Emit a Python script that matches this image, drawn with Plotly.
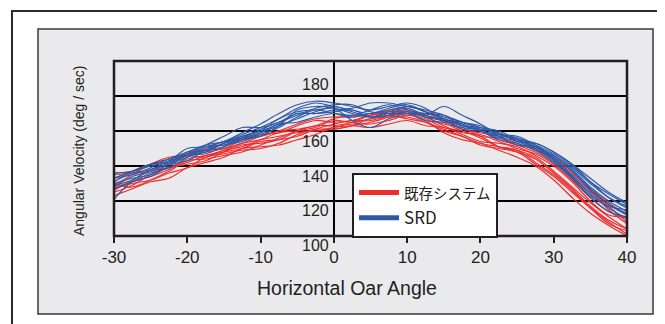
import plotly.graph_objects as go

# Horizontal oar angle (deg) sample positions
angles = [-30, -27.5, -25, -22.5, -20, -17.5, -15, -12.5, -10, -7.5, -5, -2.5, 0, 2.5, 5,
          7.5, 10, 12.5, 15, 17.5, 20, 22.5, 25, 27.5, 30, 32.5, 35, 37.5, 40]

# Existing system (red) curves, angular velocity deg/sec
red_1 = [125, 129, 135, 139, 141, 143, 148, 152, 153, 155, 160, 163, 163, 165, 169, 171, 170, 167, 162, 160, 156, 151, 149, 145, 137, 128, 119, 111, 104]
red_2 = [131, 137, 141, 142, 148, 149, 150, 153, 157, 160, 161, 163, 167, 169, 169, 172, 173, 168, 164, 162, 157, 156, 152, 148, 142, 134, 125, 117, 108]
red_3 = [127, 130, 132, 136, 139, 145, 147, 149, 150, 153, 158, 161, 161, 163, 167, 168, 168, 165, 160, 157, 152, 150, 148, 141, 134, 125, 116, 108, 101]
red_4 = [133, 137, 141, 144, 147, 150, 154, 156, 157, 160, 164, 167, 168, 168, 170, 171, 171, 168, 163, 159, 158, 154, 150, 147, 141, 132, 122, 114, 110]
red_5 = [123, 127, 131, 133, 139, 142, 145, 150, 151, 152, 155, 158, 162, 164, 164, 166, 169, 166, 159, 155, 153, 149, 145, 140, 132, 122, 113, 106, 100]
red_6 = [129, 135, 141, 145, 146, 145, 149, 151, 155, 159, 160, 160, 162, 163, 162, 164, 166, 163, 162, 158, 154, 153, 151, 146, 140, 131, 120, 112, 111]
red_7 = [135, 136, 137, 141, 146, 148, 150, 155, 158, 159, 163, 166, 165, 166, 169, 170, 169, 170, 167, 161, 159, 157, 153, 149, 144, 136, 127, 119, 112]
red_8 = [126, 132, 137, 139, 142, 146, 148, 150, 154, 155, 157, 161, 164, 166, 166, 169, 174, 171, 165, 160, 157, 151, 148, 144, 136, 127, 117, 109, 104]
red_9 = [128, 131, 134, 138, 144, 146, 149, 153, 155, 157, 159, 160, 161, 163, 165, 168, 171, 169, 166, 163, 160, 155, 152, 150, 145, 137, 126, 115, 107]
red_10 = [130, 128, 132, 137, 143, 144, 146, 148, 152, 156, 160, 162, 166, 165, 167, 169, 167, 165, 161, 157, 153, 151, 149, 142, 135, 126, 116, 107, 103]

# SRD (blue) curves
blue_1 = [128, 134, 137, 142, 147, 149, 153, 158, 162, 167, 173, 176, 174, 172, 170, 173, 175, 171, 167, 164, 160, 158, 156, 151, 146, 138, 128, 120, 114]
blue_2 = [133, 137, 141, 144, 148, 152, 154, 159, 164, 170, 175, 177, 176, 174, 172, 174, 176, 173, 166, 162, 161, 159, 154, 153, 148, 141, 131, 122, 116]
blue_3 = [130, 133, 135, 141, 145, 149, 153, 155, 159, 164, 165, 168, 170, 169, 172, 175, 172, 170, 169, 165, 163, 158, 157, 152, 145, 137, 127, 118, 112]
blue_4 = [136, 137, 141, 142, 147, 152, 157, 162, 162, 165, 170, 170, 171, 172, 168, 170, 172, 168, 166, 165, 162, 160, 155, 151, 144, 134, 124, 116, 110]
blue_5 = [121, 131, 134, 140, 146, 147, 151, 155, 157, 163, 172, 174, 173, 166, 162, 167, 170, 169, 174, 169, 164, 158, 155, 150, 143, 133, 122, 114, 111]
blue_6 = [131, 136, 138, 143, 146, 151, 152, 156, 161, 165, 169, 173, 175, 175, 171, 170, 170, 166, 165, 164, 160, 157, 156, 152, 147, 140, 131, 124, 118]
blue_7 = [136, 137, 140, 143, 150, 151, 154, 157, 160, 167, 171, 172, 173, 170, 168, 171, 173, 169, 166, 161, 160, 155, 153, 149, 142, 133, 123, 117, 115]
blue_8 = [129, 132, 138, 141, 143, 149, 151, 157, 160, 164, 170, 170, 172, 173, 176, 176, 174, 172, 169, 163, 162, 157, 152, 151, 146, 139, 130, 122, 117]
blue_9 = [133, 135, 139, 144, 146, 148, 153, 156, 159, 163, 167, 171, 174, 171, 168, 169, 171, 168, 167, 163, 161, 159, 154, 150, 144, 135, 126, 118, 113]
blue_10 = [127, 131, 136, 139, 145, 150, 152, 154, 158, 162, 168, 172, 170, 168, 170, 172, 174, 171, 168, 165, 161, 156, 155, 153, 148, 141, 133, 125, 119]

red_curves = [red_1, red_2, red_3, red_4, red_5, red_6, red_7, red_8, red_9, red_10]
blue_curves = [blue_1, blue_2, blue_3, blue_4, blue_5, blue_6, blue_7, blue_8, blue_9, blue_10]

series_names = ["<span style='font-size:14.5px'>既存システム</span>", "SRD"]
series_colors = ["#ee2d2d", "#2c5aa8"]

x_tick_values = [-30, -20, -10, 0, 10, 20, 30, 40]
x_tick_labels = ["-30", "-20", "-10", "0", "10", "20", "30", "40"]
y_tick_values = [180, 160, 140, 120, 100]
y_tick_labels = ["180", "160", "140", "120", "100"]
y_tick_shift = [12, -10, -10, -9, -9]

fig = go.Figure()

for curves, color, name in [(red_curves, series_colors[0], series_names[0]),
                            (blue_curves, series_colors[1], series_names[1])]:
    for c in curves:
        fig.add_trace(go.Scatter(x=angles, y=c, mode="lines",
                                 line=dict(color=color, width=1.2, shape="spline", smoothing=1.0),
                                 showlegend=False, hoverinfo="skip"))
    fig.add_trace(go.Scatter(x=[None], y=[None], mode="lines", name=name,
                             line=dict(color=color, width=5), showlegend=True))

# page offset (browser body margin) and plot geometry in screen pixels
OFF = 8
FW, FH = 657, 316
L, R, T, B = 114 - OFF, 627 - OFF, 61 - OFF, 236 - OFF
W, H = R - L, B - T
def px(x):
    return (x - OFF - L) / W
def py(y):
    return (B - (y - OFF)) / H

shapes = [
    # outer border
    dict(type="rect", xref="paper", yref="paper", x0=px(12), x1=px(690), y0=py(360), y1=py(11),
         line=dict(color="#2a2a2a", width=2), fillcolor="white", layer="below"),
    # inner panel
    dict(type="rect", xref="paper", yref="paper", x0=px(38), x1=px(653), y0=py(314), y1=py(29),
         line=dict(color="#3a3a3a", width=1.5), fillcolor="#eaeaec", layer="below"),
    # plot frame
    dict(type="rect", xref="paper", yref="paper", x0=0, x1=1, y0=0, y1=1,
         line=dict(color="#231f20", width=2.5), layer="above"),
]

annotations = []
for v, lab, s in zip(y_tick_values, y_tick_labels, y_tick_shift):
    annotations.append(dict(x=0, y=v, xref="x", yref="y", text=lab, showarrow=False,
                            xanchor="right", yanchor="middle", xshift=-3, yshift=s,
                            font=dict(size=16, color="#231f20", family="Liberation Sans")))
annotations.append(dict(x=px(347), y=py(288), xref="paper", yref="paper",
                        text="Horizontal Oar Angle", showarrow=False,
                        xanchor="center", yanchor="middle",
                        font=dict(size=19.5, color="#231f20", family="Liberation Sans")))
annotations.append(dict(x=px(79), y=py(151), xref="paper", yref="paper",
                        text="Angular Velocity (deg / sec)", showarrow=False, textangle=-90,
                        xanchor="center", yanchor="middle",
                        font=dict(size=14, color="#231f20", family="Liberation Sans")))

fig.update_layout(
    width=FW, height=FH,
    margin=dict(l=L, r=FW - R, t=T, b=FH - B),
    paper_bgcolor="white",
    plot_bgcolor="#b6b7b9",
    shapes=shapes,
    annotations=annotations,
    showlegend=True,
    legend=dict(x=px(352), y=py(173), xanchor="left", yanchor="top",
                bgcolor="white", bordercolor="#231f20", borderwidth=2,
                font=dict(size=17, color="#231f20", family="Noto Sans CJK JP"),
                itemwidth=40, tracegroupgap=0),
    xaxis=dict(range=[-30, 40], tickvals=x_tick_values, ticktext=x_tick_labels, showgrid=False,
               zeroline=True, zerolinecolor="#000000", zerolinewidth=2,
               ticks="outside", ticklen=6, tickwidth=2, tickcolor="#231f20",
               tickfont=dict(size=17, color="#231f20", family="Liberation Sans"),
               showline=False),
    yaxis=dict(range=[100, 200], dtick=20, tick0=100, showgrid=True,
               gridcolor="#000000", gridwidth=2, zeroline=False,
               showticklabels=False, ticks="", showline=False),
)

fig.write_html("out.html")
